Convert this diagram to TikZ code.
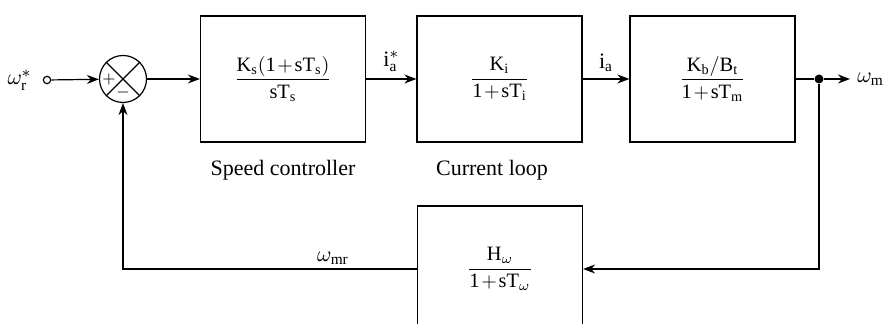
\documentclass[tikz,border=0pt]{standalone}
\usepackage{amsmath}
\usepackage{fontspec}
\setmainfont{Liberation Serif}
\usetikzlibrary{arrows.meta,calc}
\newcommand{\blkfrac}[2]{$\medmuskip=1.5mu\relax\dfrac{\mathrm{#1}}{\mathrm{#2}}$}

\begin{document}
\begin{tikzpicture}[x=0.5pt, y=-0.5pt, line width=0.6pt,
    font=\fontsize{11}{13}\selectfont,
    blk/.style={draw, minimum width=82.5pt, minimum height=63pt, inner sep=0pt,
      font=\fontsize{10.2}{12}\selectfont},
    sig/.style={-{Stealth[length=6pt,width=4.5pt]}}]
    \useasboundingbox (0,0) rectangle (892,324);
    \clip (0,0) rectangle (892,324);
    \coordinate (out) at (850,79);
    \node[draw, circle, inner sep=1.3pt] (in) at (47,80) {};
    \node[left=2pt] (wr) at (in.west) {$\omega_\mathrm{r}^*$};
    \node[draw, circle, minimum size=23.5pt, inner sep=0pt] (sum) at (123,79) {};
    \draw (sum.north west) -- (sum.south east) (sum.north east) -- (sum.south west);
    \node[font=\footnotesize] (plus) at ($(sum.center)+(-14,1)$) {$+$};
    \node[font=\footnotesize] (minus) at ($(sum.center)+(0,14)$) {$-$};
    \node[blk] (ctrl) at (283,79) {\blkfrac{K_s(1+sT_s)}{sT_s}};
    \node[blk] (cur) at (499.5,79) {\blkfrac{K_i}{1+sT_i}};
    \node[blk] (mot) at (712.5,79) {\blkfrac{K_b/B_t}{1+sT_m}};
    \node[blk] (fb) at (500,269) {\blkfrac{H_\omega}{1+sT_\omega}};
    \node[circle, fill, inner sep=0pt, minimum size=4.5pt] (J) at (819,79) {};
    \node[right=0pt] (wm) at (out) {$\omega_\mathrm{m}$};
    \node (lctrl) at (283,170) {Speed controller};
    \node (lcur) at (492,170) {Current loop};
    \node (wmr) at (333,258) {$\omega_\mathrm{mr}$};
    % forward path
    \draw[sig] (in) -- (sum);
    \draw[sig] (sum) -- (ctrl);
    \draw[sig] (ctrl) -- node[above] (ias) {$\mathrm{i}_\mathrm{a}^*$} (cur);
    \draw[sig] (cur) -- node[above] (ia) {$\mathrm{i}_\mathrm{a}$} (mot);
    \draw (mot) -- (J);
    \draw[sig] (J) -- (out);
    % feedback path
    \draw[sig] (J) |- (fb);
    \draw[sig] (fb) -| (sum);
\end{tikzpicture}
\end{document}
